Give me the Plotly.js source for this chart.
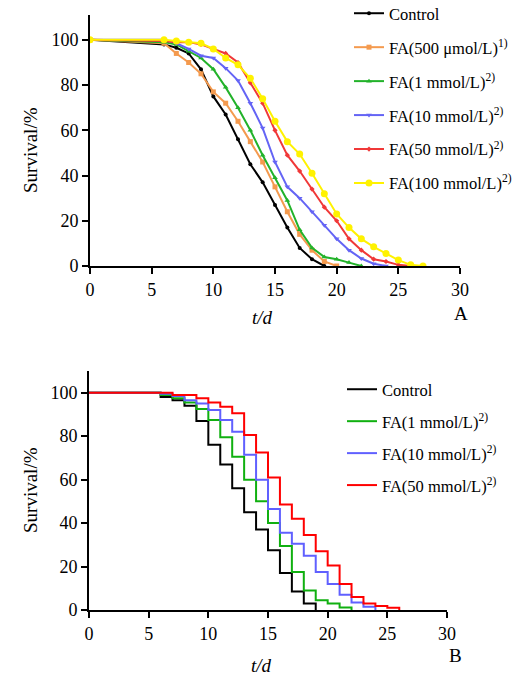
<!DOCTYPE html>
<html><head><meta charset="utf-8">
<script src="https://cdn.plot.ly/plotly-3.0.1.min.js"></script>
<style>html,body{margin:0;padding:0;background:#fff}#chart{width:513px;height:675px}</style>
</head><body><div id="chart"></div>
<script>
// ---- Panel A (lines + markers) ----
const namesA = ["Control","FA(500 \u03bcmol/L)<sup>1)</sup>","FA(1 mmol/L)<sup>2)</sup>","FA(10 mmol/L)<sup>2)</sup>","FA(50 mmol/L)<sup>2)</sup>","FA(100 mmol/L)<sup>2)</sup>"];
const daysA_ctrl = [0,6,7,8,9,10,11,12,13,14,15,16,17,18,19];
const survA_ctrl = [100,98,96.5,94,87,75,67,56,45,37,27,17,8,3,0];
const daysA_fa500 = [0,6,7,8,9,10,11,12,13,14,15,16,17,18,19,20];
const survA_fa500 = [100,98.5,94,90,85,77,72,64,55,46,35,24,14,7,2,0];
const daysA_fa1 = [0,6,7,8,9,10,11,12,13,14,15,16,17,18,19,20,21,22];
const survA_fa1 = [100,99,98,95,92,87,79,70,60,49,39,29,16,8,4,3,1.5,0];
const daysA_fa10 = [0,6,7,8,9,10,11,12,13,14,15,16,17,18,19,20,21,22,23,24];
const survA_fa10 = [100,100,98.5,96,93,92,87.5,82,72,61,46,35,30,24,18,12,7,3.3,1,0];
const daysA_fa50 = [0,6,7,8,9,10,11,12,13,14,15,16,17,18,19,20,21,22,23,24,25,26];
const survA_fa50 = [100,99.5,99,99,98,96,94,90,81,72,60,49,42,34,26,20,12,7,3,2,0.5,0];
const daysA_fa100 = [0,6,7,8,9,10,11,12,13,14,15,16,17,18,19,20,21,22,23,24,25,26,27];
const survA_fa100 = [100,100,99.5,99,98.5,96,92,89,83,74,64,55,49.5,41,32,23,17,12,8.5,5.5,2.6,0.5,0];

// ---- Panel B (Kaplan-Meier steps) ----
const namesB = ["Control","FA(1 mmol/L)<sup>2)</sup>","FA(10 mmol/L)<sup>2)</sup>","FA(50 mmol/L)<sup>2)</sup>"];
const daysB_ctrl = [0,6,7,8,9,10,11,12,13,14,15,16,17,18,19];
const survB_ctrl = [100,98,96.5,94,87,76,67,56,45,37,27.5,17,8.5,3,0];
const daysB_fa1 = [0,6,7,8,9,10,11,12,13,14,15,16,17,18,19,20,21,22];
const survB_fa1 = [100,99,97.5,95.5,92.5,87.5,79.5,70.5,60,50,40,29.5,17.5,9,4.5,3,1.2,0];
const daysB_fa10 = [0,6,7,8,9,10,11,12,13,14,15,16,17,18,19,20,21,22,23,24];
const survB_fa10 = [100,99.5,98.5,96.5,95,92,87.5,82,71.5,60,46.5,35.5,30.5,25,17.5,12,7,3.5,1.5,0];
const daysB_fa50 = [0,6,7,8,9,10,11,12,13,14,15,16,17,18,19,20,21,22,23,24,25,26];
const survB_fa50 = [100,100,99,99,97.5,95.5,93.5,90.5,80.5,72.5,61,48.5,42,34.5,27,20.5,12,6,3,1.8,1,0];

const xTicks = [0,5,10,15,20,25,30];
const yTicks = [0,20,40,60,80,100];

const colA = ["#000000","#F49A4E","#22B22A","#6464F5","#F03838","#FFF200"];
const symA = ["circle","square","triangle-up","triangle-down","diamond","circle"];
const sizeA = [4,5,5,5,4,7];
const colB = ["#000000","#10B010","#6060FF","#FF0000"];

const daysA = [daysA_ctrl,daysA_fa500,daysA_fa1,daysA_fa10,daysA_fa50,daysA_fa100];
const survA = [survA_ctrl,survA_fa500,survA_fa1,survA_fa10,survA_fa50,survA_fa100];
const daysB = [daysB_ctrl,daysB_fa1,daysB_fa10,daysB_fa50];
const survB = [survB_ctrl,survB_fa1,survB_fa10,survB_fa50];

const traces = [];
namesA.forEach((n,i)=>traces.push({
  x: daysA[i], y: survA[i], name: n, type:'scatter', mode:'lines+markers',
  xaxis:'x', yaxis:'y', legend:'legend', legendgroup:'a'+i,
  line:{color:colA[i], width:2}, marker:{color:colA[i], symbol:symA[i], size:sizeA[i]}
}));
namesB.forEach((n,i)=>traces.push({
  x: daysB[i], y: survB[i], name: n, type:'scatter', mode:'lines',
  xaxis:'x2', yaxis:'y2', legend:'legend2', legendgroup:'b'+i,
  line:{color:colB[i], width:2, shape:'hv'}
}));

const W=513, H=675;
const px = v=>v/W, py = v=>1-v/H;
const F = "'Liberation Serif', 'Times New Roman', Times, serif";
const axisBase = {showline:true, linecolor:'#000', linewidth:2, ticks:'outside', ticklen:6, tickwidth:2,
  tickcolor:'#000', showgrid:false, zeroline:false, tickfont:{family:F, size:18, color:'#000'}};
const ann = (text,x,y,extra)=>Object.assign({text, xref:'paper', yref:'paper', x:px(x), y:py(y),
  xanchor:'center', yanchor:'middle', showarrow:false, font:{family:F, size:19, color:'#000'}}, extra||{});

const layout = {
  width:W, height:H, margin:{l:0,r:0,t:0,b:0,autoexpand:false}, paper_bgcolor:'#fff', plot_bgcolor:'#fff',
  font:{family:F, color:'#000'},
  xaxis: Object.assign({}, axisBase, {domain:[px(90),px(460)], range:[0,30], tickvals:xTicks, anchor:'y'}),
  yaxis: Object.assign({}, axisBase, {domain:[py(266),py(15)], range:[0,111], tickvals:yTicks, anchor:'x'}),
  xaxis2: Object.assign({}, axisBase, {domain:[px(89),px(447)], range:[0,30], tickvals:xTicks, anchor:'y2'}),
  yaxis2: Object.assign({}, axisBase, {domain:[py(610),py(371)], range:[0,110], tickvals:yTicks, anchor:'x2'}),
  legend: {x:px(349), y:py(-4), xanchor:'left', yanchor:'top', bgcolor:'rgba(0,0,0,0)',
    font:{family:F, size:16.5, color:'#000'}, tracegroupgap:9.5, itemwidth:30},
  legend2: {x:px(342), y:py(372), xanchor:'left', yanchor:'top', bgcolor:'rgba(0,0,0,0)',
    font:{family:F, size:16.5, color:'#000'}, tracegroupgap:7.5, itemwidth:30},
  showlegend:true,
  annotations:[
    ann('Survival/%',30,150,{textangle:-90}),
    ann('<i>t/d</i>',262,318),
    ann('A',461,313),
    ann('Survival/%',30,490,{textangle:-90}),
    ann('<i>t/d</i>',261,665),
    ann('B',455,655)
  ]
};
Plotly.newPlot('chart', traces, layout, {displayModeBar:false, staticPlot:true});
</script>
</body></html>
